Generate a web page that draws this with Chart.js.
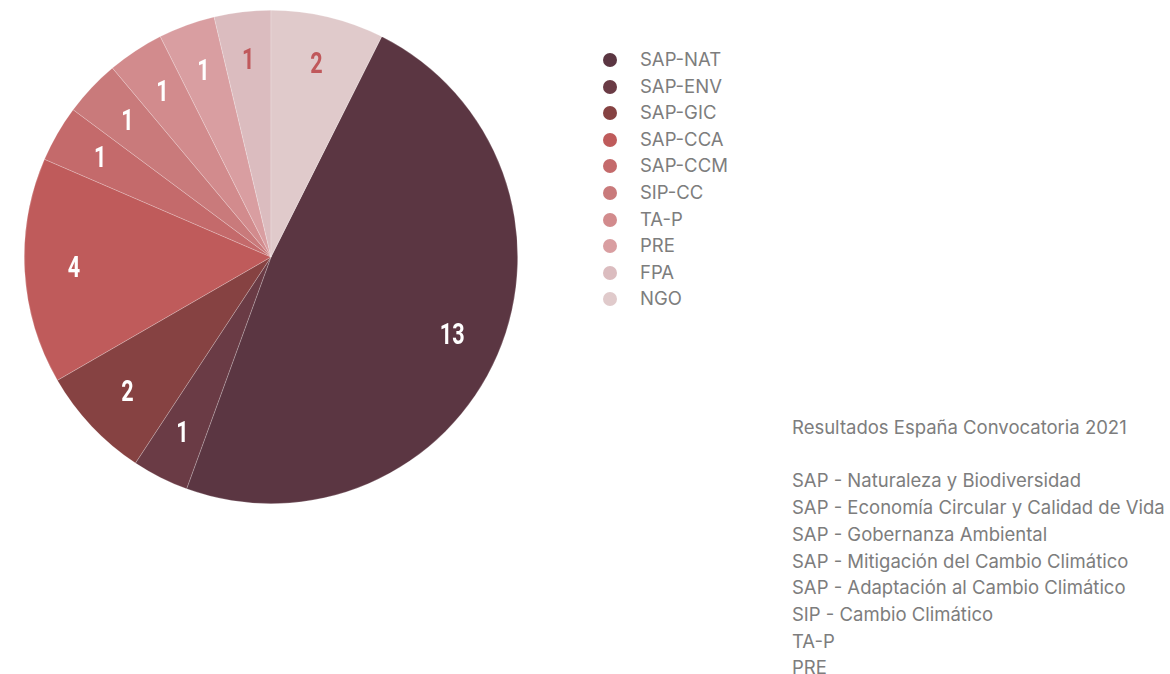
<!DOCTYPE html>
<html>
<head>
<meta charset="utf-8">
<script src="https://cdn.jsdelivr.net/npm/chart.js@4"></script>
<style>
  body { margin: 0; background: #fff; font-family: Inter, "Noto Sans", sans-serif; }
  #wrap { position: relative; width: 1170px; height: 674px; }
  #pieBox { position: absolute; left: 24px; top: 10px; width: 494px; height: 494px; }
  #legend { position: absolute; left: 603px; top: 46px; list-style: none; margin: 0; padding: 0; }
  #legend li { height: 26.6px; line-height: 26.6px; font-size: 18.5px; color: #7d7d7d; white-space: nowrap; }
  #legend span.dot { display: inline-block; width: 14px; height: 14px; border-radius: 50%; margin-right: 23px; vertical-align: -1px; }
  #notes { position: absolute; left: 792px; top: 414px; font-size: 18.5px; color: #7d7d7d; line-height: 26.7px; white-space: pre; }
</style>
</head>
<body>
<div id="wrap">
  <div id="pieBox"><canvas id="pie"></canvas></div>
  <ul id="legend"></ul>
  <div id="notes"></div>
</div>
<script>
// data
var categorias = ['SAP-NAT', 'SAP-ENV', 'SAP-GIC', 'SAP-CCA', 'SAP-CCM', 'SIP-CC', 'TA-P', 'PRE', 'FPA', 'NGO'];
var proyectos = [13, 1, 2, 4, 1, 1, 1, 1, 1, 2];
var colores = ['#5b3642', '#6a3b45', '#864242', '#bf5b5b', '#c46a6b', '#c97a7b', '#d28b8d', '#d99ea1', '#dbbcbf', '#e0cacb'];
var colorEtiqueta = ['#fff', '#fff', '#fff', '#fff', '#fff', '#fff', '#fff', '#fff', '#c0585b', '#c0585b'];
var notas = [
  'Resultados España Convocatoria 2021',
  '',
  'SAP - Naturaleza y Biodiversidad',
  'SAP - Economía Circular y Calidad de Vida',
  'SAP - Gobernanza Ambiental',
  'SAP - Mitigación del Cambio Climático',
  'SAP - Adaptación al Cambio Climático',
  'SIP - Cambio Climático',
  'TA-P',
  'PRE'
];

// legend
var legend = document.getElementById('legend');
categorias.forEach(function(c, i) {
  var li = document.createElement('li');
  var dot = document.createElement('span');
  dot.className = 'dot';
  dot.style.background = colores[i];
  li.appendChild(dot);
  li.appendChild(document.createTextNode(c));
  legend.appendChild(li);
});
document.getElementById('notes').textContent = notas.join('\n');

// numbers inside the slices
var valoresPlugin = {
  id: 'valores',
  afterDatasetsDraw: function(chart) {
    var ctx = chart.ctx;
    var meta = chart.getDatasetMeta(0);
    meta.data.forEach(function(arc, i) {
      var mid = (arc.startAngle + arc.endAngle) / 2;
      var r = arc.outerRadius * 0.8;
      var x = arc.x + Math.cos(mid) * r;
      var y = arc.y + Math.sin(mid) * r;
      ctx.save();
      ctx.translate(x, y);
      ctx.scale(0.72, 1);
      ctx.font = 'bold 30px Roboto';
      ctx.fillStyle = colorEtiqueta[i];
      ctx.textAlign = 'center';
      ctx.textBaseline = 'middle';
      ctx.fillText(String(proyectos[i]), 0, 1);
      ctx.restore();
    });
  }
};

var ctx = document.getElementById('pie').getContext('2d');
var chart = new Chart(ctx, {
  type: 'pie',
  data: {
    labels: categorias,
    datasets: [{
      data: proyectos,
      backgroundColor: colores,
      borderColor: 'rgba(255,255,255,0.35)',
      borderWidth: 0.6
    }]
  },
  options: {
    responsive: true,
    maintainAspectRatio: false,
    animation: false,
    rotation: 360 * 2 / 27,
    plugins: {
      legend: { display: false },
      tooltip: { enabled: false }
    }
  },
  plugins: [valoresPlugin]
});
</script>
</body>
</html>
